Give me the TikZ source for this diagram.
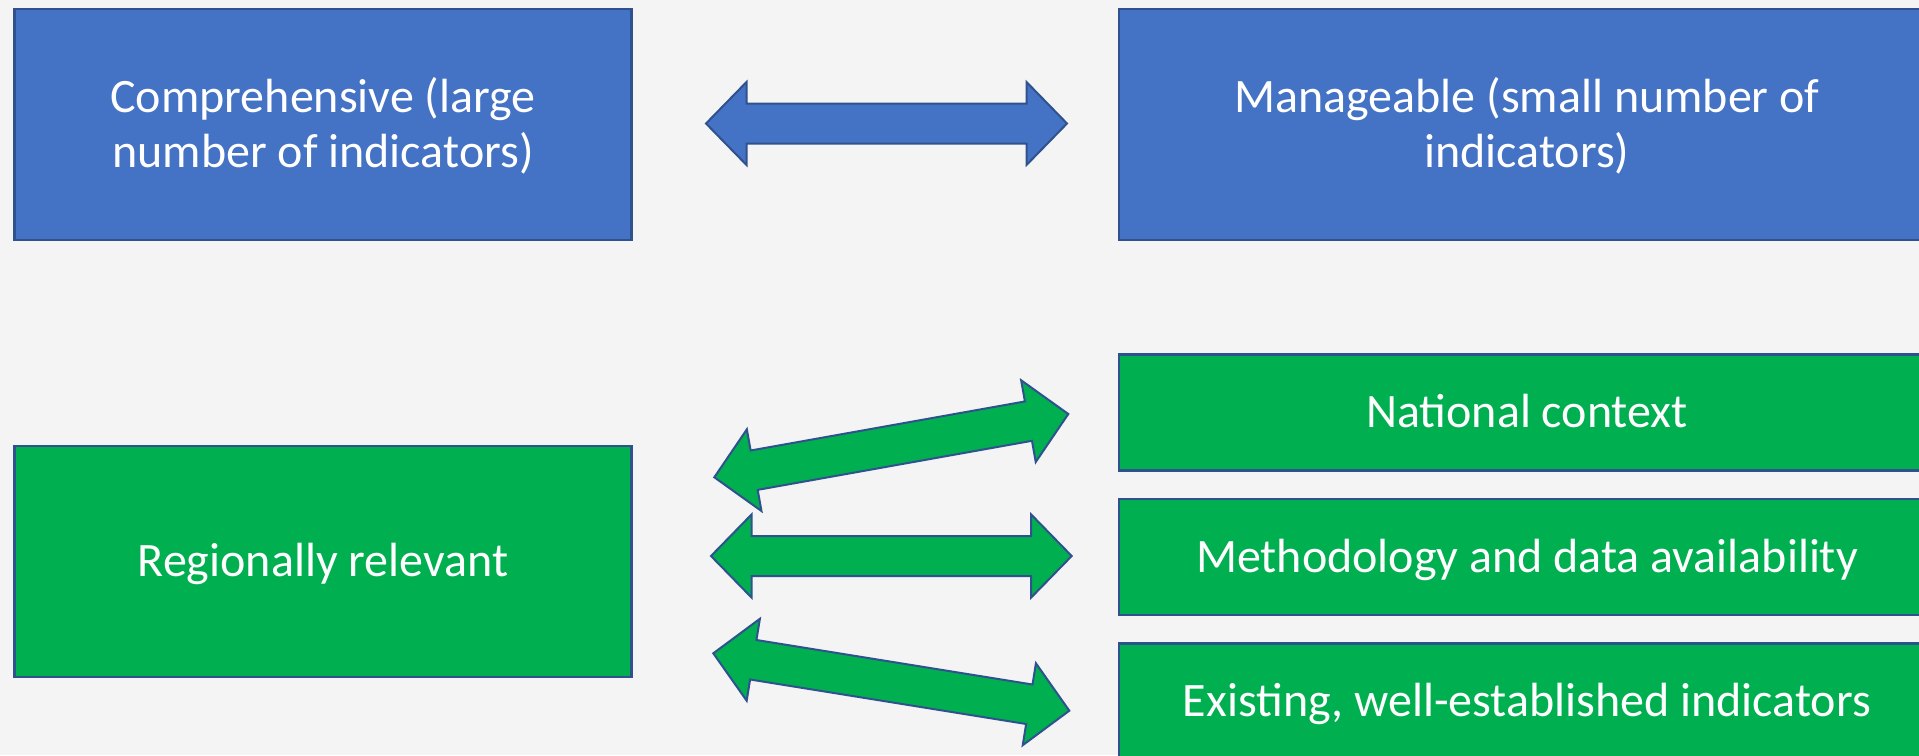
\documentclass[tikz,border=0pt]{standalone}
\usepackage{fontspec}
\setmainfont{Carlito}
\usetikzlibrary{calc}
\definecolor{pagebg}{HTML}{F4F4F4}
\definecolor{boxblue}{HTML}{4472C4}
\definecolor{boxgreen}{HTML}{00B050}
\definecolor{edgeblue}{HTML}{2F528F}
\tikzset{
  panel/.style={draw=edgeblue, line width=2.5pt, text=white, align=center,
    font=\fontsize{48}{55}\selectfont, inner sep=0pt, anchor=center,
    text height=30.5pt, text depth=0pt},
  twolines/.style={text height=85.5pt},
  bluepanel/.style={panel, fill=boxblue},
  greenpanel/.style={panel, fill=boxgreen},
  wide/.style={minimum width=816pt},
  narrow/.style={minimum width=617pt},
  tall/.style={minimum height=231pt},
  low/.style={minimum height=116pt},
  bluearrow/.style={fill=boxblue, draw=edgeblue, line width=2pt, line join=miter},
  greenarrow/.style={fill=boxgreen, draw=edgeblue, line width=2pt, line join=miter},
}
% head length, half shaft width and half head width of the block arrows
\newcommand\arrHead{40.5pt}
\newcommand\arrShaft{20pt}
\newcommand\arrWing{41.5pt}
% double-headed block arrow between two named coordinates
\newcommand\blockarrow[3]{%
  \filldraw[#3] (#1)
    -- ($(#1)!\arrHead!(#2)!\arrWing!90:(#2)$)
    -- ($(#1)!\arrHead!(#2)!\arrShaft!90:(#2)$)
    -- ($(#2)!\arrHead!(#1)!\arrShaft!-90:(#1)$)
    -- ($(#2)!\arrHead!(#1)!\arrWing!-90:(#1)$)
    -- (#2)
    -- ($(#2)!\arrHead!(#1)!\arrWing!90:(#1)$)
    -- ($(#2)!\arrHead!(#1)!\arrShaft!90:(#1)$)
    -- ($(#1)!\arrHead!(#2)!\arrShaft!-90:(#2)$)
    -- ($(#1)!\arrHead!(#2)!\arrWing!-90:(#2)$)
    -- cycle;}
\begin{document}
\begin{tikzpicture}[x=1pt, y=-1pt]
  \fill[pagebg] (0,0) rectangle (1919,755);
  \useasboundingbox (0,0) rectangle (1919,755);
  \clip (0,0) rectangle (1919,755);

  % top row: size of the indicator set
  \node[bluepanel, twolines, narrow, tall] (compr) at (323,124.3) {Comprehensive (large\\number of indicators)};
  \node[bluepanel, twolines, wide, tall] (manage) at (1527,124.3) {Manageable (small number of\\indicators)};

  % bottom row: relevance versus constraints
  \node[greenpanel, narrow, tall] (region) at (323,561.5) {Regionally relevant};
  \node[greenpanel, wide, low] (national) at (1527,412.3) {National context};
  \node[greenpanel, wide, low] (method) at (1527,557) {Methodology and data availability};
  \node[greenpanel, wide, low] (existing) at (1527,701.5) {Existing, well-established indicators};

  % arrow end points
  \coordinate (cm-l) at (706,123.5);
  \coordinate (cm-r) at (1067,123.5);
  \coordinate (rn-l) at (714.3,477.3);
  \coordinate (rn-r) at (1068.3,414);
  \coordinate (rm-l) at (711,556);
  \coordinate (rm-r) at (1071.7,556);
  \coordinate (re-l) at (713.3,653.3);
  \coordinate (re-r) at (1069.3,710.7);

  \blockarrow{cm-l}{cm-r}{bluearrow}
  \blockarrow{rn-l}{rn-r}{greenarrow}
  \blockarrow{rm-l}{rm-r}{greenarrow}
  \blockarrow{re-l}{re-r}{greenarrow}
\end{tikzpicture}
\end{document}
